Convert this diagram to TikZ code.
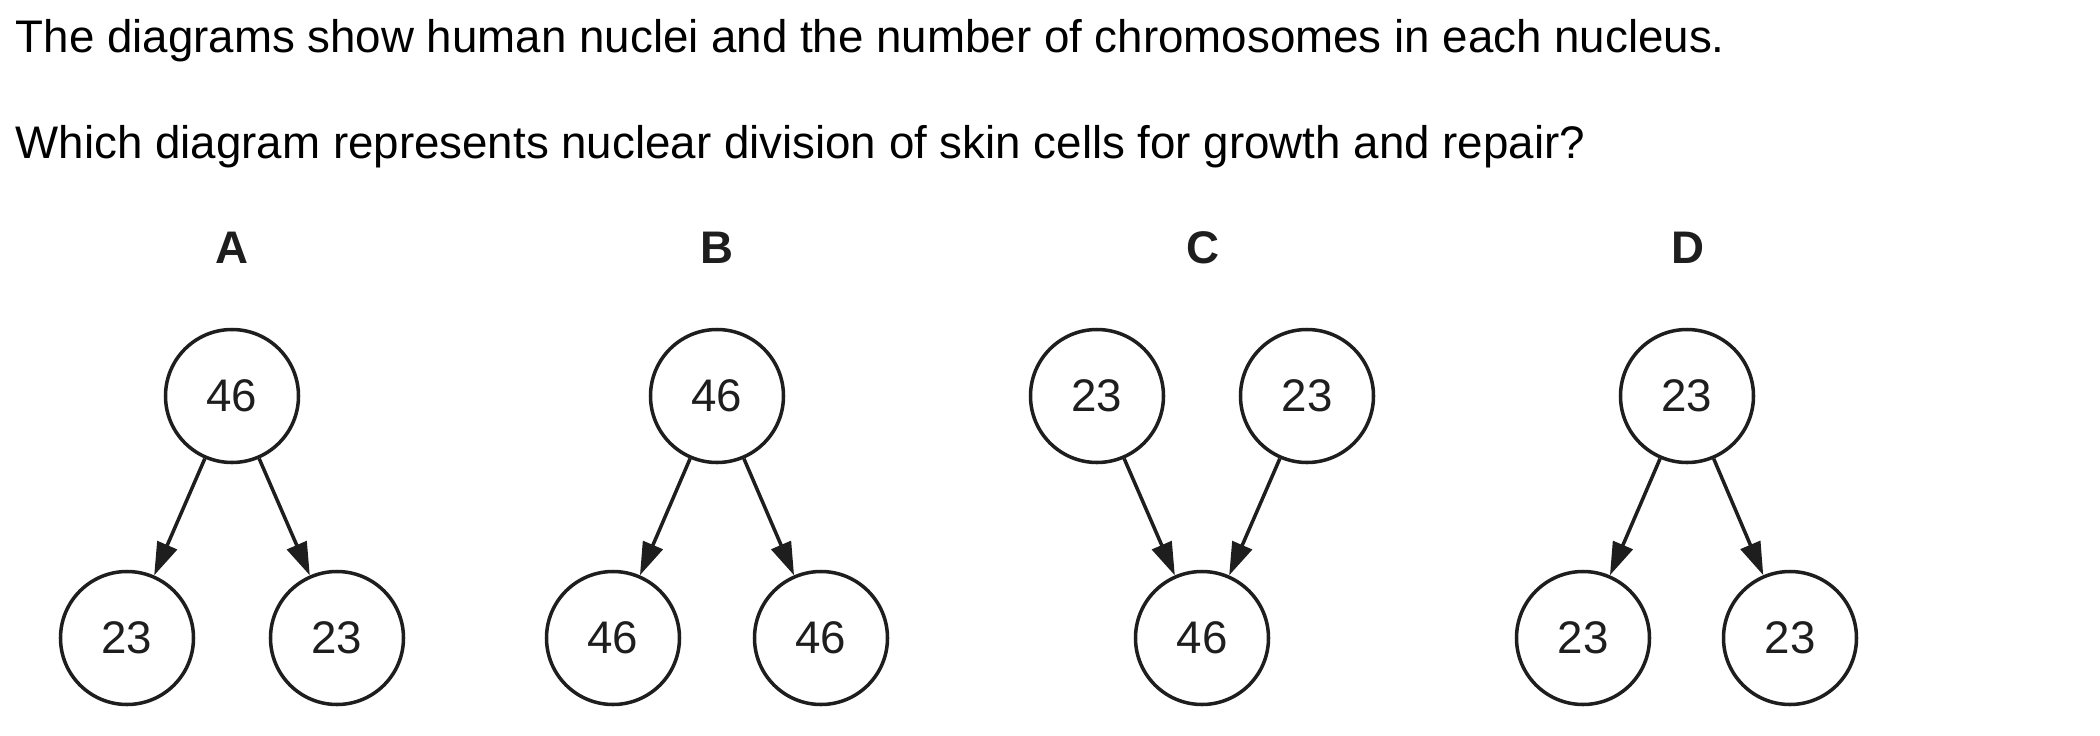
\documentclass[tikz,border=0pt]{standalone}
\usepackage{fontspec}
\setmainfont{Liberation Sans}
\usetikzlibrary{arrows.meta}
\definecolor{ink}{HTML}{1E1E1E}
\tikzset{>={Triangle[length=3.3mm,width=2.1mm]},
  cell/.style={circle,draw=ink,line width=1pt,minimum size=1.33cm,inner sep=0pt,
    text=ink,font=\fontsize{13}{15}\selectfont},
  split/.style={draw=ink,line width=1pt,->},
  tag/.style={font=\fontsize{13}{15}\selectfont\bfseries,text=ink},
  prompt/.style={anchor=base west,inner sep=0pt,font=\fontsize{13}{15}\selectfont}}

\begin{document}
\begin{tikzpicture}
  \useasboundingbox (0,0) rectangle (21,7.35);
  \node[prompt] (q1) at (0.15,6.83)
    {The diagrams show human nuclei and the number of chromosomes in each nucleus.};
  \node[prompt] (q2) at (0.15,5.77)
    {Which diagram represents nuclear division of skin cells for growth and repair?};
  % A
  \node[tag] (tA) at (2.32,4.87) {A};
  \node[cell] (a0) at (2.32,3.39) {46};
  \node[cell] (a1) at (1.27,0.97) {23};
  \node[cell] (a2) at (3.37,0.97) {23};
  \draw[split] (a0)--(a1);
  \draw[split] (a0)--(a2);
  % B
  \node[tag] (tB) at (7.17,4.87) {B};
  \node[cell] (b0) at (7.17,3.39) {46};
  \node[cell] (b1) at (6.13,0.97) {46};
  \node[cell] (b2) at (8.21,0.97) {46};
  \draw[split] (b0)--(b1);
  \draw[split] (b0)--(b2);
  % C
  \node[tag] (tC) at (12.03,4.87) {C};
  \node[cell] (c1) at (10.97,3.39) {23};
  \node[cell] (c2) at (13.07,3.39) {23};
  \node[cell] (c0) at (12.02,0.97) {46};
  \draw[split] (c1)--(c0);
  \draw[split] (c2)--(c0);
  % D
  \node[tag] (tD) at (16.88,4.87) {D};
  \node[cell] (d0) at (16.87,3.39) {23};
  \node[cell] (d1) at (15.83,0.97) {23};
  \node[cell] (d2) at (17.90,0.97) {23};
  \draw[split] (d0)--(d1);
  \draw[split] (d0)--(d2);
\end{tikzpicture}
\end{document}
